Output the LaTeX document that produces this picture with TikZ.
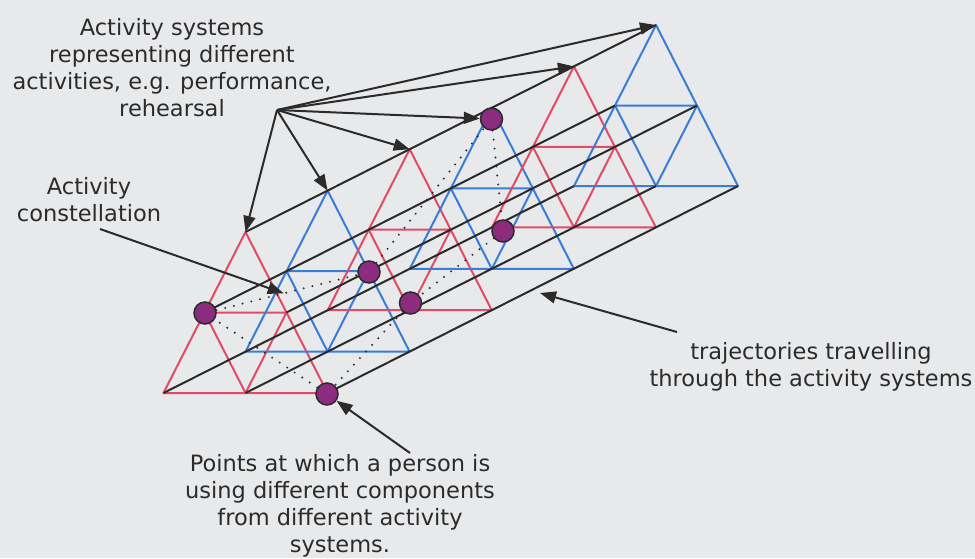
\documentclass[tikz,border=0pt]{standalone}
\usepackage{fontspec}
\setmainfont{DejaVu Sans}
\usetikzlibrary{calc,positioning,arrows.meta}
\definecolor{PaperGrey}{HTML}{E8E9EB}
\definecolor{SystemRed}{HTML}{E04C66}
\definecolor{SystemBlue}{HTML}{3B7DD6}
\definecolor{PersonPurple}{HTML}{8B2C7E}
\definecolor{InkGrey}{HTML}{2B2B2B}

\begin{document}
\begin{tikzpicture}[x=1pt,y=-1pt,
    system/.style={line width=2pt,line join=round},
    trajectory/.style={draw=InkGrey,line width=2pt},
    pointer/.style={draw=InkGrey,line width=2pt,-{Triangle[length=16pt,width=12pt]}},
    person/.style={circle,draw=InkGrey,line width=1.5pt,fill=PersonPurple,minimum size=22pt,inner sep=0pt},
    constellation/.style={draw=InkGrey,line width=2.2pt,dash pattern=on 0pt off 9pt,line cap=round},
    caption/.style={text=InkGrey,align=center,font=\fontsize{22.5}{27}\selectfont}
  ]
  \fill[PaperGrey] (0,0) rectangle (975,558);
  \useasboundingbox (0,0) rectangle (975,558);

  \foreach \i/\col in {0/SystemRed,1/SystemBlue,2/SystemRed,3/SystemBlue,4/SystemRed,5/SystemBlue}{
    \coordinate (t\i-a) at ({245.5+82.1*\i},{232-41.4*\i});
    \coordinate (t\i-l) at ($(t\i-a)+(-82,161)$);
    \coordinate (t\i-r) at ($(t\i-a)+(82,161)$);
    \coordinate (t\i-ml) at ($(t\i-a)!0.5!(t\i-l)$);
    \coordinate (t\i-mr) at ($(t\i-a)!0.5!(t\i-r)$);
    \coordinate (t\i-bm) at ($(t\i-l)!0.5!(t\i-r)$);
    \draw[system,draw=\col] (t\i-a) -- (t\i-l) -- (t\i-r) -- cycle
      (t\i-ml) -- (t\i-mr) -- (t\i-bm) -- cycle;
  }

  \foreach \v in {a,l,r,ml,mr,bm}
    \draw[trajectory] (t0-\v) -- (t5-\v);

  \node[person] (pA) at (205,313) {};
  \node[person] (pB) at (327,394) {};
  \node[person] (pC) at (369,272) {};
  \node[person] (pD) at (410.5,303) {};
  \node[person] (pE) at (491.5,119) {};
  \node[person] (pF) at (503,231) {};

  \draw[constellation] (pA) -- (pC) -- (pE) -- (pF) -- (pD) -- (pB) -- (pA);

  \node[caption] (systemsLabel) at (172,67.5) {Activity systems\\representing different\\activities, e.g. performance,\\rehearsal};
  \coordinate (fan) at (277,110);
  \foreach \target in {t0-a,t1-a,t2-a,pE,t4-a,t5-a}
    \draw[pointer] (fan) -- (\target);

  \node[caption] (constellationLabel) at (89,200) {Activity\\constellation};
  \coordinate (constellationFrom) at (100,229);
  \coordinate (constellationTo) at ($(pA)!0.48!(pC)$);
  \draw[pointer] (constellationFrom) -- (constellationTo);

  \node[caption] (personLabel) at (340,506) {Points at which a person is\\using different components\\from different activity\\systems.};
  \coordinate (personFrom) at (410,453);
  \draw[pointer] (personFrom) -- (pB);

  \node[caption] (trajectoryLabel) at (811,367) {trajectories travelling\\through the activity systems};
  \coordinate (trajectoryFrom) at (677,332);
  \coordinate (trajectoryTo) at (540,293);
  \draw[pointer] (trajectoryFrom) -- (trajectoryTo);
\end{tikzpicture}
\end{document}
